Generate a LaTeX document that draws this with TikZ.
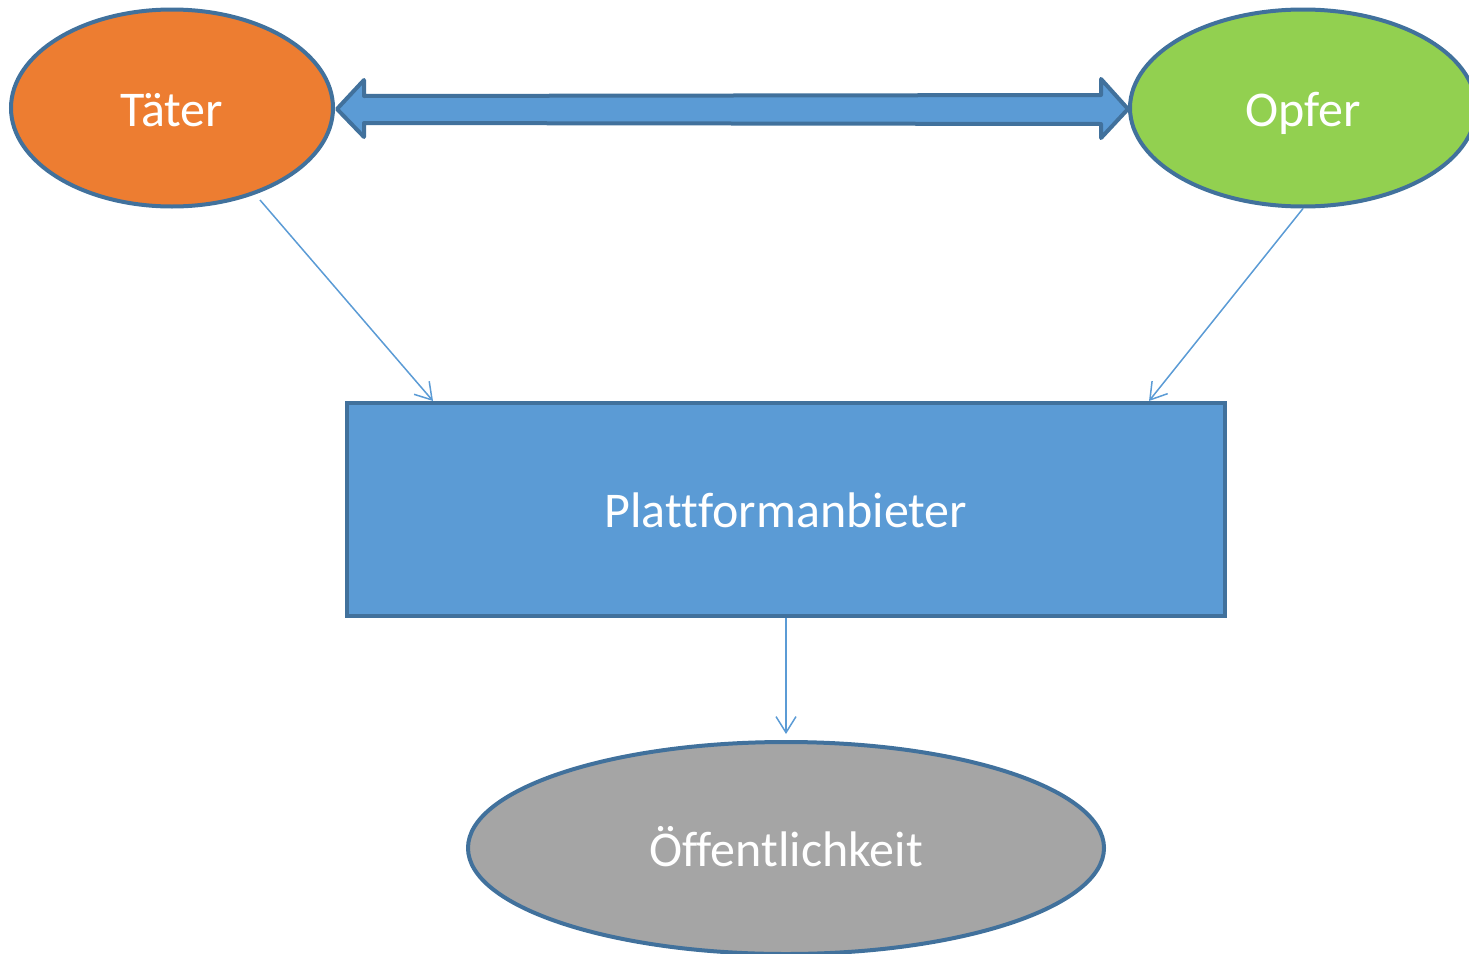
\documentclass[tikz,border=0pt]{standalone}
\usepackage{fontspec}
\setmainfont{Carlito}[RawFeature={-liga;-clig;-calt;-dlig}]
\usetikzlibrary{shapes.geometric,arrows.meta,calc}
\definecolor{taeterorange}{HTML}{ED7D31}
\definecolor{opfergruen}{HTML}{92D050}
\definecolor{plattformblau}{HTML}{5B9BD5}
\definecolor{publikumgrau}{HTML}{A5A5A5}
\definecolor{rahmenblau}{HTML}{41719C}

\begin{document}
\begin{tikzpicture}[x=1pt,y=-1pt,
                    every node/.style={text=white,font=\fontsize{50}{60}\selectfont,
                                       text height=36pt,text depth=0pt},
                    akteur/.style={ellipse,draw=rahmenblau,line width=4pt,inner sep=0pt},
                    anbieter/.style={rectangle,draw=rahmenblau,line width=4pt,fill=plattformblau,
                                     minimum width=878,minimum height=213,inner sep=0pt},
                    fluss/.style={draw=plattformblau,line width=1.5pt,
                                  -{Straight Barb[length=16pt,width=20pt,line width=1.5pt]}},
                    konflikt/.style={draw=rahmenblau,line width=4pt,fill=plattformblau,line join=round}]
    \useasboundingbox (0,0) rectangle (1469,953);
    \node[akteur,fill=taeterorange,minimum width=322,minimum height=197] (taeter) at (172,108) {Täter};
    \node[akteur,fill=opfergruen,minimum width=346,minimum height=197] (opfer) at (1303,108) {Opfer};
    \node[anbieter] (plattform) at (786,509.5) {Plattformanbieter};
    \node[akteur,fill=publikumgrau,minimum width=636,minimum height=212] (oeffentlichkeit) at (786,848) {Öffentlichkeit};
    % Doppelpfeil zwischen Täter und Opfer
    \draw[konflikt] ($(taeter.east)+(2,1)$) -- ++(27,-29) -- ++(0,16)
        -- ($(opfer.west)+(-27,-13)$) -- ++(0,-16) -- ($(opfer.west)+(0,1)$)
        -- ++(-27,29) -- ++(0,-14) -- ($(taeter.east)+(29,15)$) -- ++(0,14) -- cycle;
    \coordinate (taeteraus) at ($(taeter.center)+(88,92)$);
    \draw[fluss] (taeteraus) -- ($(plattform.north west)+(88,0)$);
    \draw[fluss] (opfer.south) -- ($(plattform.north east)+(-78,0)$);
    \draw[fluss] (plattform.south) -- ($(oeffentlichkeit.north)+(0,-6)$);
\end{tikzpicture}
\end{document}
